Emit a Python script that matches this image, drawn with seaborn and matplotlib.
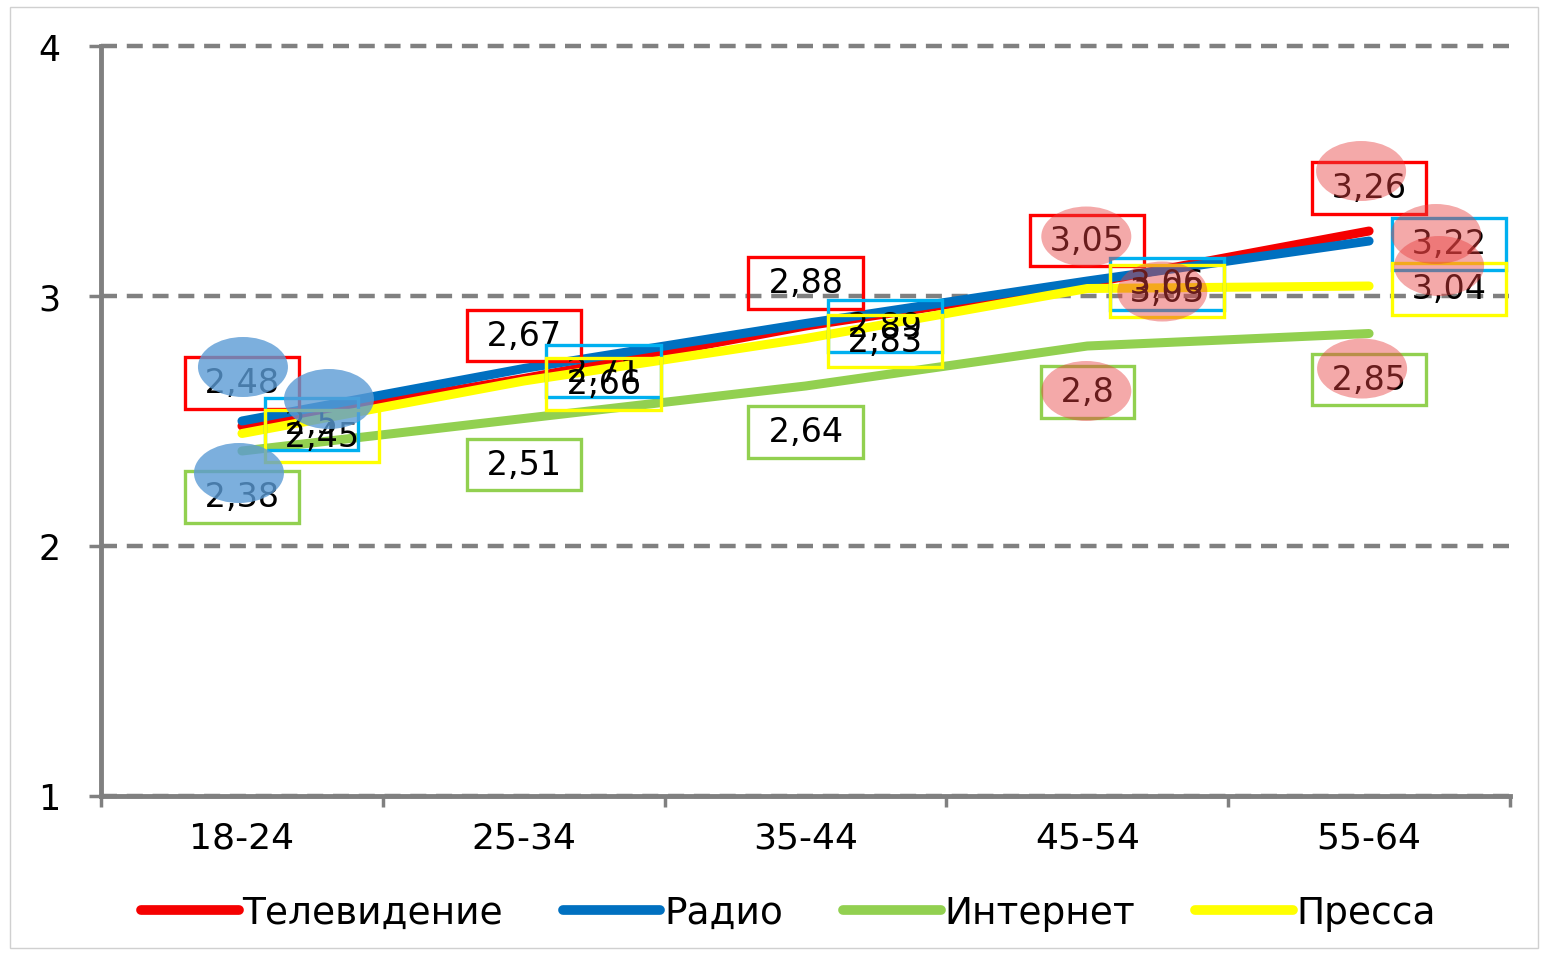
import matplotlib
matplotlib.use("Agg")
import matplotlib.pyplot as plt
import matplotlib.transforms as mtransforms
import matplotlib.colors as mcolors
from matplotlib.patches import Ellipse, Rectangle
from matplotlib.lines import Line2D
import seaborn as sns
import pandas as pd

# данные
ages = ["18-24", "25-34", "35-44", "45-54", "55-64"]
channels = ["Телевидение", "Радио", "Интернет", "Пресса"]
tv = [2.48, 2.67, 2.88, 3.05, 3.26]
radio = [2.5, 2.71, 2.89, 3.06, 3.22]
internet = [2.38, 2.51, 2.64, 2.8, 2.85]
press = [2.45, 2.66, 2.83, 3.03, 3.04]
y_ticks = [1, 2, 3, 4]

LINE_COLORS = {"Телевидение": "#F50000", "Радио": "#0070C0",
               "Интернет": "#92D050", "Пресса": "#FFFF00"}
BOX_COLORS = {"Телевидение": "#FF0000", "Радио": "#00B0F0",
              "Интернет": "#92D050", "Пресса": "#FFFF00"}
LINE_Z = {"Интернет": 2, "Телевидение": 3, "Радио": 4, "Пресса": 5}
LABEL_POS = {"Телевидение": "above", "Радио": "right",
             "Интернет": "below", "Пресса": "right"}

# выделения (серия, индекс возраста, цвет, смещение центра от точки в px)
highlights = [
    ("Телевидение", 0, "blue", 1, 59),
    ("Радио", 0, "blue", 87, 22),
    ("Интернет", 0, "blue", -3, -22),
    ("Телевидение", 3, "red", -1, 47),
    ("Пресса", 3, "red", 75, -3),
    ("Интернет", 3, "red", -1, -45),
    ("Телевидение", 4, "red", -8, 60),
    ("Радио", 4, "red", 67, 7),
    ("Пресса", 4, "red", 70, 20),
    ("Интернет", 4, "red", -7, -35),
]
HL_STYLE = {"blue": ("#5B9BD5", 0.8), "red": ("#E84040", 0.45)}

series = dict(zip(channels, [tv, radio, internet, press]))
df = pd.DataFrame({
    "age": ages * len(channels),
    "value": tv + radio + internet + press,
    "channel": [c for c in channels for _ in ages],
})

sns.set_style("white")
plt.rcParams["font.family"] = ["DejaVu Sans"]

fig = plt.figure(figsize=(15.43, 9.54), dpi=100)
ax = fig.add_axes([0.0655, 0.1646, 0.9131, 0.7861])

sns.lineplot(data=df, x="age", y="value", hue="channel", hue_order=channels,
             palette=LINE_COLORS, linewidth=6.5, ax=ax, legend=False,
             sort=False, solid_capstyle="round")

for line in ax.lines:
    col = mcolors.to_hex(line.get_color()).upper()
    for ch, c in LINE_COLORS.items():
        if col == c.upper():
            line.set_zorder(LINE_Z[ch])

ax.set_xlim(-0.5, len(ages) - 0.5)
ax.set_ylim(1, 4)
ax.set_yticks(y_ticks)
ax.set_xticks(range(len(ages)))
ax.set_xticklabels(ages)
ax.set_xticks([i - 0.5 for i in range(len(ages) + 1)], minor=True)
ax.set_xlabel("")
ax.set_ylabel("")

gray = "#808080"
for s in ["top", "right"]:
    ax.spines[s].set_visible(False)
for s in ["left", "bottom"]:
    ax.spines[s].set_color(gray)
    ax.spines[s].set_linewidth(3.5)
    ax.spines[s].set_zorder(6)

ax.grid(axis="y", color=gray, linestyle=(0, (3.6, 2.2)), linewidth=3.2)
ax.set_axisbelow(True)
for gl in ax.get_ygridlines():
    gl.set_clip_on(False)

ax.tick_params(axis="x", which="major", length=0, pad=18, labelsize=26,
               labelcolor="black")
ax.tick_params(axis="x", which="minor", length=8, width=2.5, color=gray,
               direction="out", bottom=True)
ax.tick_params(axis="y", which="major", length=9, width=2.5, color=gray,
               direction="out", left=True, pad=20, labelsize=25,
               labelcolor="black")

# подписи значений
fs = 24
for ch in channels:
    for i, v in enumerate(series[ch]):
        txt = " " + f"{v:g}".replace(".", ",") + " "
        pos = LABEL_POS[ch]
        if pos == "above":
            off, ha = (0, 31), "center"
        elif pos == "below":
            off, ha = (0, -33), "center"
        else:
            off, ha = (23, -2), "left"
        ax.annotate(txt, xy=(i, v), xytext=off, textcoords="offset points",
                    ha=ha, va="center", fontsize=fs, color="black", zorder=7,
                    bbox=dict(boxstyle="square,pad=0.28", fc="none",
                              ec=BOX_COLORS[ch], lw=2.4))

# полупрозрачные эллипсы-выделения
for ch, i, key, dx, dy in highlights:
    px, py = ax.transData.transform((i, series[ch][i]))
    color, alpha = HL_STYLE[key]
    fig.add_artist(Ellipse((px + dx, py + dy), 90, 60, facecolor=color,
                           alpha=alpha, edgecolor="none", zorder=10,
                           transform=mtransforms.IdentityTransform()))

handles = [Line2D([0], [0], color=LINE_COLORS[c], lw=7, solid_capstyle="round")
           for c in channels]
fig.legend(handles, channels, loc="center", bbox_to_anchor=(0.511, 0.042),
           ncol=4, frameon=False, fontsize=27, handlelength=2.6,
           handletextpad=0.1, columnspacing=1.6, labelcolor="black")

fig.add_artist(Rectangle((0.0065, 0.005), 0.9905, 0.987, transform=fig.transFigure,
                         fill=False, edgecolor="#D0D0D0", lw=1))

fig.savefig("out.png", dpi=100)
